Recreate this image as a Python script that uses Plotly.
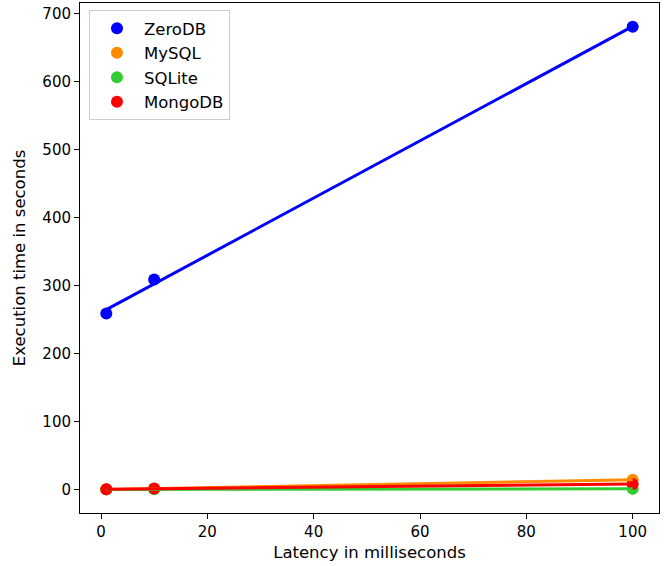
import numpy as np
import plotly.graph_objects as go

latency = [1, 10, 100]
series_names = ["ZeroDB", "MySQL", "SQLite", "MongoDB"]
zerodb = [259, 309, 681]
mysql = [0.3, 1.2, 14.5]
sqlite = [0.2, 0.4, 1.0]
mongodb = [0.4, 1.5, 8.0]
colors = ["#0000ff", "#ff8c00", "#32cd32", "#ff0000"]

series = [zerodb, mysql, sqlite, mongodb]

fig = go.Figure()
for name, ys, c in zip(series_names, series, colors):
    fig.add_trace(go.Scatter(x=latency, y=ys, mode="markers", name=name,
                             marker=dict(color=c, size=12), showlegend=True))
for name, ys, c in zip(series_names, series, colors):
    slope, icpt = np.polyfit(latency, ys, 1)
    xl = [min(latency), max(latency)]
    yl = [icpt + slope * v for v in xl]
    fig.add_trace(go.Scatter(x=xl, y=yl, mode="lines", name=name,
                             line=dict(color=c, width=3), showlegend=False,
                             hoverinfo="skip"))

tick_font = dict(family="DejaVu Sans", size=15, color="black")
label_font = dict(family="DejaVu Sans", size=16.5, color="black")
axis_common = dict(showline=True, linecolor="black", linewidth=1, mirror=True,
                   ticks="outside", ticklen=5, tickcolor="black", showgrid=False,
                   zeroline=False, tickfont=tick_font)
fig.update_layout(
    width=665, height=566,
    margin=dict(l=80, r=6, t=3, b=53),
    paper_bgcolor="white", plot_bgcolor="white",
    font=tick_font,
    xaxis=dict(range=[-3.95, 104.95], tickvals=[0, 20, 40, 60, 80, 100],
               title=dict(text="Latency in milliseconds", font=label_font, standoff=6),
               **axis_common),
    yaxis=dict(range=[-34.5, 716], tickvals=[0, 100, 200, 300, 400, 500, 600, 700],
               title=dict(text="Execution time in seconds", font=label_font, standoff=12),
               **axis_common),
    legend=dict(x=0.0155, y=0.986, xanchor="left", yanchor="top",
                bordercolor="#cccccc", borderwidth=1, bgcolor="white",
                font=label_font, itemwidth=44, tracegroupgap=0),
)
fig.write_html("out.html")
